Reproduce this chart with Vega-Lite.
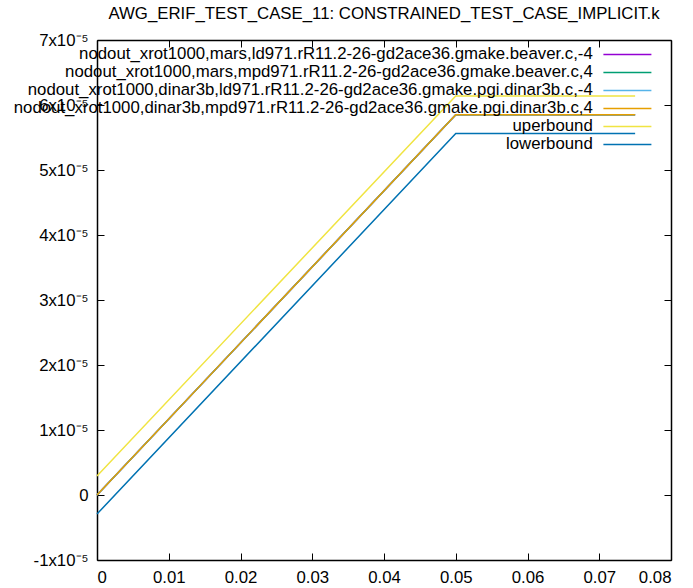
{
  "$schema": "https://vega.github.io/schema/vega-lite/v6.json",
  "width": 574,
  "height": 520,
  "autosize": {"type": "none"},
  "padding": {"left": 97, "top": 40, "right": 22, "bottom": 28},
  "background": "white",
  "config": {
    "view": {"stroke": null},
    "font": "Liberation Sans",
    "axis": {"grid": false, "domainColor": "black", "domainWidth": 1.5, "tickColor": "black", "tickWidth": 1, "labelFont": "Liberation Sans", "labelFontSize": 16.8, "labelColor": "black", "title": null}
  },
  "title": {
    "text": "AWG_ERIF_TEST_CASE_11: CONSTRAINED_TEST_CASE_IMPLICIT.k",
    "font": "Liberation Sans",
    "fontSize": 16.8,
    "fontWeight": "normal",
    "color": "black",
    "anchor": "middle",
    "frame": "group",
    "baseline": "alphabetic",
    "offset": -4
  },
  "data": {
    "values": [
      {"s": "nodout_xrot1000,mars,ld971.rR11.2-26-gd2ace36.gmake.beaver.c,-4", "x": 0, "y": 0},
      {"s": "nodout_xrot1000,mars,ld971.rR11.2-26-gd2ace36.gmake.beaver.c,-4", "x": 0.05, "y": 5.85e-5},
      {"s": "nodout_xrot1000,mars,ld971.rR11.2-26-gd2ace36.gmake.beaver.c,-4", "x": 0.075, "y": 5.85e-5},
      {"s": "nodout_xrot1000,mars,mpd971.rR11.2-26-gd2ace36.gmake.beaver.c,4", "x": 0, "y": 0},
      {"s": "nodout_xrot1000,mars,mpd971.rR11.2-26-gd2ace36.gmake.beaver.c,4", "x": 0.05, "y": 5.85e-5},
      {"s": "nodout_xrot1000,mars,mpd971.rR11.2-26-gd2ace36.gmake.beaver.c,4", "x": 0.075, "y": 5.85e-5},
      {"s": "nodout_xrot1000,dinar3b,ld971.rR11.2-26-gd2ace36.gmake.pgi.dinar3b.c,-4", "x": 0, "y": 0},
      {"s": "nodout_xrot1000,dinar3b,ld971.rR11.2-26-gd2ace36.gmake.pgi.dinar3b.c,-4", "x": 0.05, "y": 5.85e-5},
      {"s": "nodout_xrot1000,dinar3b,ld971.rR11.2-26-gd2ace36.gmake.pgi.dinar3b.c,-4", "x": 0.075, "y": 5.85e-5},
      {"s": "nodout_xrot1000,dinar3b,mpd971.rR11.2-26-gd2ace36.gmake.pgi.dinar3b.c,4", "x": 0, "y": 0},
      {"s": "nodout_xrot1000,dinar3b,mpd971.rR11.2-26-gd2ace36.gmake.pgi.dinar3b.c,4", "x": 0.05, "y": 5.85e-5},
      {"s": "nodout_xrot1000,dinar3b,mpd971.rR11.2-26-gd2ace36.gmake.pgi.dinar3b.c,4", "x": 0.075, "y": 5.85e-5},
      {"s": "uperbound", "x": 0, "y": 2.93e-6},
      {"s": "uperbound", "x": 0.05, "y": 6.14e-5},
      {"s": "uperbound", "x": 0.075, "y": 6.14e-5},
      {"s": "lowerbound", "x": 0, "y": -2.93e-6},
      {"s": "lowerbound", "x": 0.05, "y": 5.56e-5},
      {"s": "lowerbound", "x": 0.075, "y": 5.56e-5}
    ]
  },
  "resolve": {"axis": {"x": "independent", "y": "independent"}},
  "layer": [
    {
      "mark": {"type": "line", "strokeWidth": 1.5},
      "encoding": {
        "x": {
          "field": "x", "type": "quantitative",
          "scale": {"domain": [0, 0.08], "nice": false, "zero": false},
          "axis": {"orient": "bottom", "values": [0, 0.01, 0.02, 0.03, 0.04, 0.05, 0.06, 0.07, 0.08], "tickSize": -7, "labelPadding": 16, "labelExpr": "datum.value == 0 ? '0' : format(datum.value, '.2f')"}
        },
        "y": {
          "field": "y", "type": "quantitative",
          "scale": {"domain": [-1e-5, 7e-5], "nice": false, "zero": false},
          "axis": {"orient": "left", "values": [-1e-5, 0, 1e-5, 2e-5, 3e-5, 4e-5, 5e-5, 6e-5, 7e-5], "tickSize": -7, "labelPadding": 16, "labelExpr": "datum.value == 0 ? '0' : round(datum.value * 1e5) + 'x10⁻⁵'"}
        },
        "color": {
          "field": "s", "type": "nominal",
          "scale": {
            "domain": [
              "nodout_xrot1000,mars,ld971.rR11.2-26-gd2ace36.gmake.beaver.c,-4",
              "nodout_xrot1000,mars,mpd971.rR11.2-26-gd2ace36.gmake.beaver.c,4",
              "nodout_xrot1000,dinar3b,ld971.rR11.2-26-gd2ace36.gmake.pgi.dinar3b.c,-4",
              "nodout_xrot1000,dinar3b,mpd971.rR11.2-26-gd2ace36.gmake.pgi.dinar3b.c,4",
              "uperbound",
              "lowerbound"
            ],
            "range": ["#9400d3", "#009e73", "#56b4e9", "#e69f00", "#f0e442", "#0072b2"]
          },
          "legend": {
            "orient": "none", "legendX": 522, "legendY": 6, "title": null, "padding": 0,
            "symbolType": "M-4,0H4", "symbolSize": 144, "symbolStrokeWidth": 1.5,
            "labelAlign": "right", "labelOffset": -43, "labelBaseline": "middle",
            "labelFont": "Liberation Sans", "labelFontSize": 16.8, "labelColor": "black", "labelLimit": 1000,
            "rowPadding": 0,
            "encode": {
              "symbols": {"update": {"stroke": {"scale": "color", "field": "value"}, "strokeWidth": {"value": 1.5}, "fill": {"value": "transparent"}, "opacity": {"value": 1}}}
            }
          }
        }
      }
    },
    {
      "mark": {"type": "line", "opacity": 0},
      "encoding": {
        "x": {"field": "x", "type": "quantitative", "axis": {"orient": "top", "values": [0, 0.01, 0.02, 0.03, 0.04, 0.05, 0.06, 0.07, 0.08], "tickSize": -7, "labels": false}},
        "y": {"field": "y", "type": "quantitative", "axis": {"orient": "right", "values": [-1e-5, 0, 1e-5, 2e-5, 3e-5, 4e-5, 5e-5, 6e-5, 7e-5], "tickSize": -7, "labels": false}}
      }
    }
  ]
}
